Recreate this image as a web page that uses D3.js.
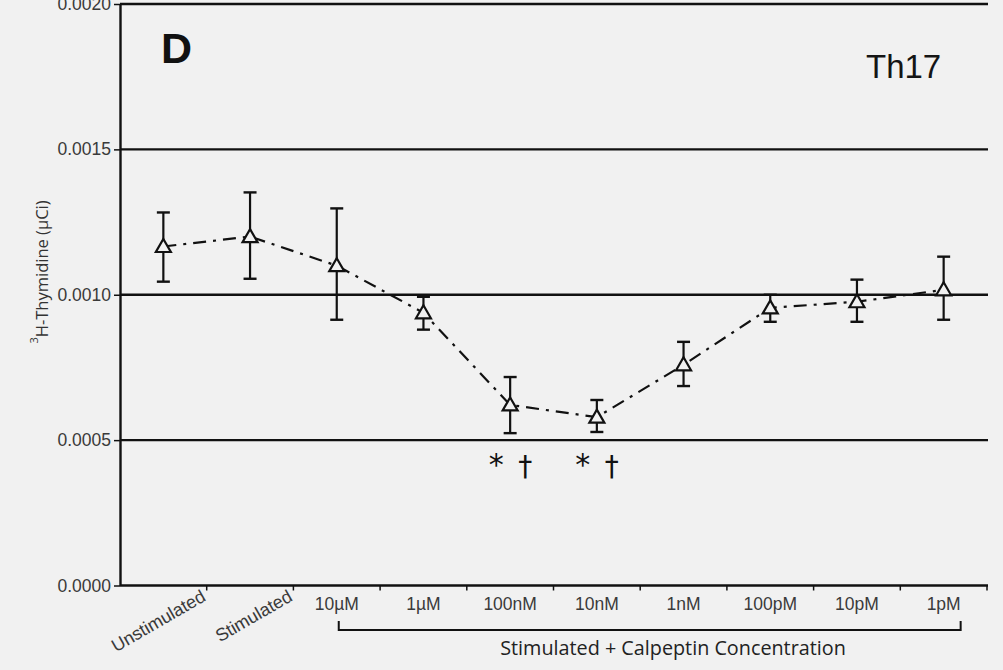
<!DOCTYPE html>
<html>
<head>
<meta charset="utf-8">
<script src="https://cdn.jsdelivr.net/npm/d3@7"></script>
<style>
  html, body { margin: 0; padding: 0; background: #f1f1f1; }
  svg { display: block; }
</style>
</head>
<body>
<svg id="chart" width="1003" height="670"></svg>
<script>
// Th17 proliferation (3H-thymidine uptake) across calpeptin concentrations
const categories = ["Unstimulated", "Stimulated", "10µM", "1µM", "100nM", "10nM", "1nM", "100pM", "10pM", "1pM"];
const meanValues = [0.001166, 0.00120, 0.00110, 0.000938, 0.000621, 0.000579, 0.000759, 0.000955, 0.000976, 0.001017];
const upperValues = [0.001283, 0.001352, 0.001297, 0.000993, 0.000717, 0.000638, 0.000838, 0.001000, 0.001052, 0.001131];
const lowerValues = [0.001045, 0.001055, 0.000914, 0.000880, 0.000524, 0.000528, 0.000686, 0.000907, 0.000907, 0.000914];
const yTicks = [0, 0.0005, 0.0010, 0.0015, 0.0020];
const significant = ["100nM", "10nM"];

const svg = d3.select("#chart");
const ink = "#111";
const bg = "#f1f1f1";

const x = d3.scaleBand().domain(categories).range([120, 987]);
const y = d3.scaleLinear().domain([0, 0.002]).range([585.5, 4]);

// horizontal grid lines
svg.append("g").selectAll("line").data(yTicks.slice(1)).join("line")
  .attr("x1", 120).attr("x2", 988)
  .attr("y1", d => y(d)).attr("y2", d => y(d))
  .attr("stroke", ink).attr("stroke-width", 2.4);

// y axis
const yAxis = svg.append("g").attr("transform", "translate(120,0)")
  .call(d3.axisLeft(y).tickValues(yTicks).tickFormat(d3.format(".4f")).tickSize(6).tickSizeOuter(0).tickPadding(3));
yAxis.select(".domain").attr("stroke", ink).attr("stroke-width", 2.4);
yAxis.selectAll(".tick line").attr("stroke", ink).attr("stroke-width", 1.5);
yAxis.selectAll(".tick text")
  .attr("font-family", "Liberation Sans, Arial, sans-serif")
  .attr("font-size", 17.5).attr("fill", "#3a3a3a");

// x axis: ticks at category boundaries
const xAxis = svg.append("g").attr("transform", `translate(0,${y(0)})`);
xAxis.append("line").attr("x1", 120).attr("x2", 988).attr("y1", 0).attr("y2", 0)
  .attr("stroke", ink).attr("stroke-width", 2.4);
xAxis.selectAll("line.tk").data(categories).join("line").attr("class", "tk")
  .attr("x1", d => x(d) + x.bandwidth()).attr("x2", d => x(d) + x.bandwidth())
  .attr("y1", 0).attr("y2", 5).attr("stroke", ink).attr("stroke-width", 1.5);

// category labels: first two slanted, concentrations horizontal
xAxis.selectAll("text.rot").data(categories.slice(0, 2)).join("text").attr("class", "rot")
  .attr("transform", d => `translate(${x(d) + x.bandwidth() - 3},${9}) rotate(-30)`)
  .attr("text-anchor", "end").attr("dy", "0.35em")
  .attr("font-family", "Liberation Sans, Arial, sans-serif")
  .attr("font-size", 18).attr("fill", "#3a3a3a")
  .text(d => d);
xAxis.selectAll("text.conc").data(categories.slice(2)).join("text").attr("class", "conc")
  .attr("x", d => x(d) + x.bandwidth() / 2).attr("y", 24)
  .attr("text-anchor", "middle")
  .attr("font-family", "Liberation Sans, Arial, sans-serif")
  .attr("font-size", 17.5).attr("fill", "#3a3a3a")
  .text(d => d);

// bracket grouping the calpeptin concentrations
const bx1 = x("10µM") + x.bandwidth() / 2 + 2;
const bx2 = x("1pM") + x.bandwidth() / 2 + 17;
svg.append("path")
  .attr("d", `M${bx1},621 V630 H${bx2} V621`)
  .attr("fill", "none").attr("stroke", ink).attr("stroke-width", 2);
svg.append("text")
  .attr("x", 673).attr("y", 655)
  .attr("text-anchor", "middle")
  .attr("font-family", "Open Sans, sans-serif")
  .attr("font-size", 19.8).attr("fill", "#222")
  .text("Stimulated + Calpeptin Concentration");

// y axis title
svg.append("text")
  .attr("transform", "translate(45,272) rotate(-90)")
  .attr("text-anchor", "middle")
  .attr("font-family", "Open Sans, sans-serif")
  .attr("font-size", 16.5).attr("fill", "#333")
  .call(t => {
    t.append("tspan").attr("font-size", 11).attr("dy", "-0.6em").text("3");
    t.append("tspan").attr("dy", "0.6em").text("H-Thymidine (µCi)");
  });

// panel letter and subset label
svg.append("text").attr("x", 161).attr("y", 63)
  .attr("font-family", "Liberation Sans, Arial, sans-serif")
  .attr("font-weight", "bold").attr("font-size", 43).attr("fill", ink).text("D");
svg.append("text").attr("x", 866).attr("y", 78)
  .attr("font-family", "Liberation Sans, Arial, sans-serif")
  .attr("font-size", 33).attr("fill", "#151515").text("Th17");

const cx = d => x(d) + x.bandwidth() / 2;
const pts = categories.map((c, i) => ({ c, m: meanValues[i], hi: upperValues[i], lo: lowerValues[i] }));

// dash-dot connecting line
svg.append("path").datum(pts)
  .attr("d", d3.line().x(d => cx(d.c)).y(d => y(d.m)))
  .attr("fill", "none").attr("stroke", ink).attr("stroke-width", 2.2)
  .attr("stroke-dasharray", "13,7,3,7");

// error bars
const eb = svg.append("g").selectAll("g").data(pts).join("g");
eb.append("line").attr("x1", d => cx(d.c)).attr("x2", d => cx(d.c))
  .attr("y1", d => y(d.hi)).attr("y2", d => y(d.lo))
  .attr("stroke", ink).attr("stroke-width", 2.2);
eb.append("line").attr("x1", d => cx(d.c) - 6.5).attr("x2", d => cx(d.c) + 6.5)
  .attr("y1", d => y(d.hi)).attr("y2", d => y(d.hi))
  .attr("stroke", ink).attr("stroke-width", 2.4);
eb.append("line").attr("x1", d => cx(d.c) - 6.5).attr("x2", d => cx(d.c) + 6.5)
  .attr("y1", d => y(d.lo)).attr("y2", d => y(d.lo))
  .attr("stroke", ink).attr("stroke-width", 2.4);

// open triangle markers
svg.append("g").selectAll("path").data(pts).join("path")
  .attr("transform", d => `translate(${cx(d.c)},${y(d.m)})`)
  .attr("d", "M0,-7.5 L7.5,5.5 L-7.5,5.5 Z")
  .attr("fill", bg).attr("stroke", ink).attr("stroke-width", 2.2);

// significance marks
const sig = svg.append("g").attr("font-family", "DejaVu Sans, sans-serif").attr("fill", ink);
sig.selectAll("text.ast").data(significant).join("text").attr("class", "ast")
  .attr("x", d => cx(d) - 14).attr("y", 475).attr("text-anchor", "middle")
  .attr("font-size", 30).text("*");
sig.selectAll("text.dag").data(significant).join("text").attr("class", "dag")
  .attr("x", d => cx(d) + 15).attr("y", 476).attr("text-anchor", "middle")
  .attr("font-size", 28).text("†");
</script>
</body>
</html>
